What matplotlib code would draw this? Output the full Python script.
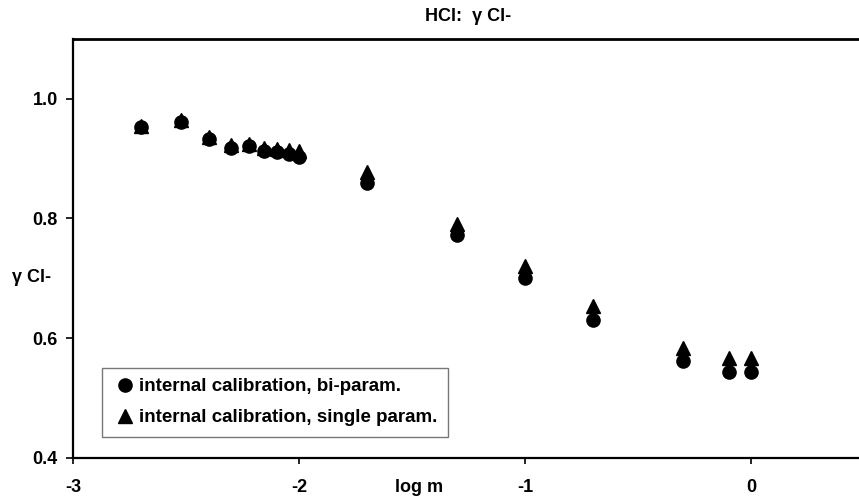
import matplotlib
matplotlib.use("Agg")
import matplotlib.pyplot as plt
import numpy as np

plt.rcParams["font.family"] = ["Liberation Sans", "DejaVu Sans"]
plt.rcParams["font.weight"] = "bold"

# molality (mol/kg) of the HCl solutions, plotted as log m
molality = [0.002, 0.003, 0.004, 0.005, 0.006, 0.007, 0.008, 0.009, 0.01,
            0.02, 0.05, 0.1, 0.2, 0.5, 0.8, 1.0]
gamma_bi = [0.953, 0.962, 0.933, 0.917, 0.921, 0.912, 0.911, 0.908, 0.903,
            0.859, 0.772, 0.700, 0.631, 0.561, 0.544, 0.543]
gamma_single = [0.955, 0.965, 0.937, 0.922, 0.925, 0.917, 0.916, 0.915, 0.913,
                0.877, 0.790, 0.720, 0.654, 0.584, 0.567, 0.567]

label_bi = "internal calibration, bi-param."
label_single = "internal calibration, single param."

x_ticks = [-3, -2, -1, 0]
y_ticks = [0.4, 0.6, 0.8, 1.0]

log_m = np.log10(molality)

fig = plt.figure(figsize=(8.59, 4.97), dpi=100)
ax = fig.add_axes([0.085, 0.079, 0.921, 0.8425])

ax.plot(log_m, gamma_bi, "o", color="black", markersize=9.5, label=label_bi)
ax.plot(log_m, gamma_single, "^", color="black", markersize=9.5, label=label_single)

ax.set_xlim(-3, 0.5)
ax.set_ylim(0.4, 1.1)
ax.set_xticks(x_ticks)
ax.set_xticklabels(["-3", "-2", "-1", "0"])
ax.set_yticks(y_ticks)
ax.set_yticklabels([f"{v:.1f}" for v in y_ticks])
ax.tick_params(axis="x", direction="out", length=4, width=1.2, pad=11, labelsize=13)
ax.tick_params(axis="y", direction="out", length=5, width=1.2, pad=6, labelsize=13)
for side in ["left", "bottom", "top", "right"]:
    ax.spines[side].set_linewidth(1.6)
    ax.spines[side].set_color("black")
ax.spines["top"].set_linewidth(2)

ax.set_title("HCl:  \u03b3 Cl-", fontsize=13, fontweight="bold", pad=13)
ax.text(-1.47, -0.07, "log m", transform=ax.get_xaxis_transform(),
        ha="center", va="center", fontsize=13, fontweight="bold")
fig.text(12 / 859, 1 - 278 / 497, "\u03b3 Cl-", ha="left", va="center",
         fontsize=13, fontweight="bold")

leg = ax.legend(loc="lower left", bbox_to_anchor=(0.037, 0.05), borderaxespad=0,
                frameon=True, fancybox=False, handlelength=1.3, handletextpad=0.1,
                labelspacing=0.75, borderpad=0.55, fontsize=13.5, numpoints=1)
leg.get_frame().set_edgecolor("#555555")
leg.get_frame().set_linewidth(1.0)
for t in leg.get_texts():
    t.set_fontweight("bold")

fig.savefig("out.png", dpi=100)
